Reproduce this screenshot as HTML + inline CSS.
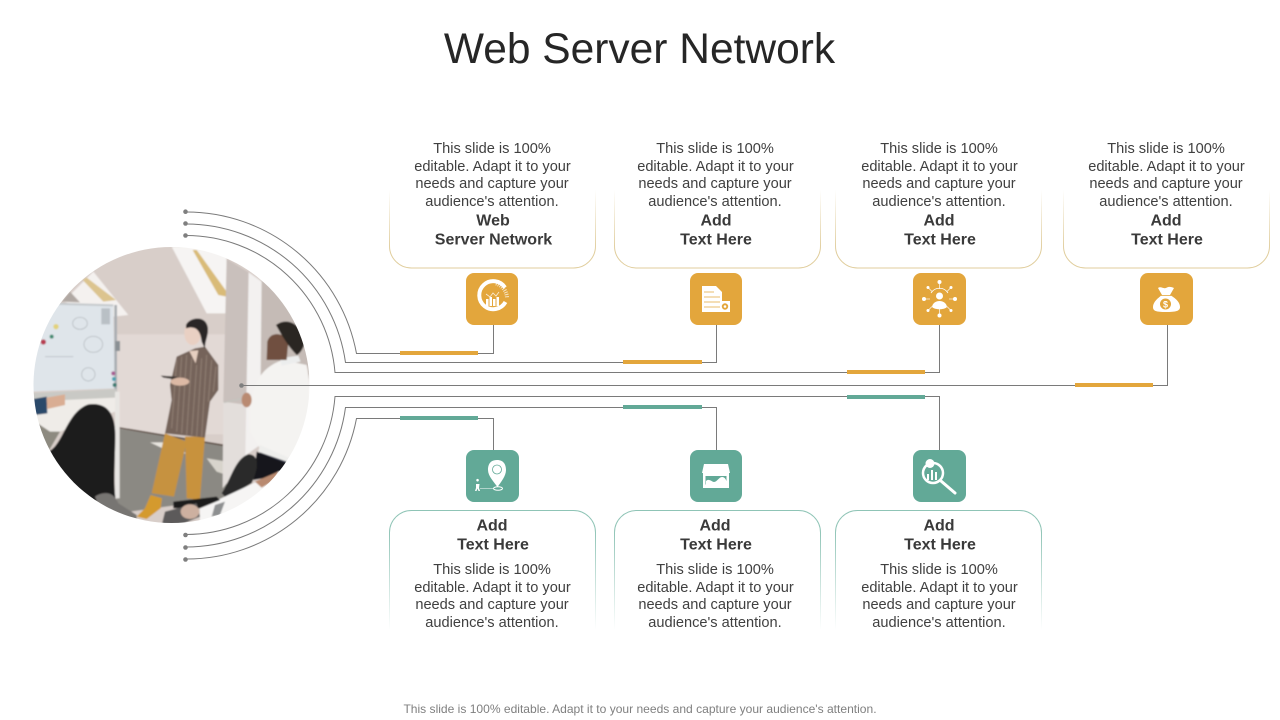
<!DOCTYPE html>
<html><head><meta charset="utf-8"><title>Web Server Network</title>
<style>html,body{margin:0;padding:0;background:#fff}svg{display:block}
text{font-family:"Liberation Sans",sans-serif}
.b{font-size:14.6px;fill:#404040;text-anchor:middle}
.h{font-size:16px;font-weight:bold;fill:#3a3a3a;text-anchor:middle}
.ln{fill:none;stroke:#7a7a7a;stroke-width:1}
.g{fill:#e3a63c}.t{fill:#62a997}
</style></head><body>
<svg width="1280" height="720" viewBox="0 0 1280 720" xmlns="http://www.w3.org/2000/svg">
<defs>
<clipPath id="c"><circle cx="171.5" cy="385" r="138"/></clipPath>
<filter id="bl" x="-5%" y="-5%" width="110%" height="110%"><feGaussianBlur stdDeviation="2.6"/></filter>
<linearGradient id="fg" gradientUnits="userSpaceOnUse" x1="0" y1="190" x2="0" y2="250"><stop offset="0" stop-color="#e0cd9c" stop-opacity="0"/><stop offset="1" stop-color="#e0cd9c"/></linearGradient>
<linearGradient id="ft" gradientUnits="userSpaceOnUse" x1="0" y1="530" x2="0" y2="630"><stop offset="0" stop-color="#8fc4b6"/><stop offset="1" stop-color="#8fc4b6" stop-opacity="0"/></linearGradient>
</defs>
<rect width="1280" height="720" fill="#fff"/>

<text x="639.5" y="63" font-size="42.5" fill="#262626" text-anchor="middle">Web Server Network</text>

<!-- photo -->
<g clip-path="url(#c)"><g transform="translate(30 245) scale(.3333)" filter="url(#bl)">
<rect x="0" y="0" width="860" height="840" fill="#d8cec9"/>
<rect x="260" y="268" width="330" height="300" fill="#e2d9d5"/>
<polygon points="260,550 590,600 590,760 300,800 260,800" fill="#8b8983"/>
<polygon points="360,592 400,592 470,625 430,625" fill="#e8e5df"/>
<polygon points="530,640 590,650 590,690 560,680" fill="#d8d4cc"/>
<polygon points="265,550 590,605 590,600 265,546" fill="#5a4a40"/>
<polygon points="425,5 560,5 590,40 590,205 530,205" fill="#f6f4f3"/>
<polygon points="488,15 500,15 590,140 590,155 565,150" fill="#d9bb78"/>
<polygon points="100,170 190,80 295,210 250,215" fill="#f4f1ef"/>
<polygon points="158,105 170,98 258,165 220,170" fill="#dcc48f"/>
<polygon points="95,170 120,140 150,172" fill="#b0a8a3"/>
<polygon points="0,440 40,172 250,180 255,430" fill="#dfe5ea"/>
<polygon points="40,172 250,178 250,184 40,178" fill="#c5c9cc"/>
<rect x="253" y="180" width="8" height="260" fill="#a9aeb2"/>
<rect x="256" y="288" width="14" height="30" fill="#8a9094"/>
<rect x="214" y="190" width="26" height="48" fill="#b9c0c5"/>
<g fill="none" stroke="#6f7478" stroke-width="2" opacity=".45"><ellipse cx="150" cy="235" rx="22" ry="18"/><ellipse cx="190" cy="298" rx="28" ry="24"/><ellipse cx="175" cy="388" rx="20" ry="20"/><path d="M45 335 H130"/></g>
<circle cx="78" cy="245" r="8" fill="#e2d27a"/><circle cx="65" cy="275" r="6" fill="#3f8a70"/><circle cx="40" cy="291" r="8" fill="#b83a50"/><circle cx="250" cy="385" r="6" fill="#a85a90"/><circle cx="252" cy="402" r="6" fill="#4aa0b0"/><circle cx="254" cy="420" r="6" fill="#3a7a70"/>
<polygon points="0,445 260,432 260,458 0,470" fill="#c9c9c5"/>
<polygon points="0,470 255,458 255,500 90,560 60,560 0,520" fill="#efece8"/>
<polygon points="0,520 60,560 90,560 55,620 0,640" fill="#8d8a80"/>
<rect x="255" y="440" width="14" height="320" fill="#e8e6e3"/>
<polygon points="10,462 50,455 52,505 14,510" fill="#2c4a6b"/>
<polygon points="50,458 105,448 105,480 52,492" fill="#d9ad93"/>
<!-- pillar -->
<polygon points="590,42 656,82 652,480 580,470" fill="#c9c0bc"/>
<polygon points="580,470 652,480 650,640 578,730" fill="#e3dedb"/>
<polygon points="695,80 860,80 860,400 690,400" fill="#c5bbb6"/>
<polygon points="656,82 695,110 690,600 646,632" fill="#f3f1f0"/>
<rect x="838" y="390" width="30" height="300" fill="#fff"/>
<!-- woman -->
<polygon points="405,565 470,590 432,755 365,745" fill="#c6923f"/>
<polygon points="465,575 525,575 510,765 470,760" fill="#c8923c"/>
<polygon points="362,750 396,760 392,790 350,822 320,815 345,790" fill="#d49a2e"/>
<path d="M440 335 L495 310 L525 305 L565 360 L565 435 L540 470 L525 578 L405 565 L425 465 L420 420 Z" fill="#75635a"/>
<g stroke="#c8b6a5" stroke-width="2.5" opacity=".4"><path d="M440 345 L425 550M455 335 L440 560M470 330 L455 565M485 340 L470 570M500 360 L485 570M515 340 L500 575M530 330 L515 575M545 345 L535 470M558 365 L550 440"/></g>
<polygon points="478,318 505,316 497,355" fill="#e6cfc0"/>
<ellipse cx="488" cy="265" rx="25" ry="35" fill="#e9d0c3"/>
<path d="M468 240 C480 215 530 210 534 250 C535 275 525 285 525 312 L515 290 C512 260 500 240 468 250Z" fill="#2a2526"/>
<polygon points="392,392 440,395 445,405 400,398" fill="#3a3432"/>
<ellipse cx="450" cy="410" rx="28" ry="12" fill="#dcb9a5"/>
<!-- man -->
<path d="M660 560 C650 430 690 365 760 345 L830 360 C845 430 840 560 835 640 L780 680 L690 610 Z" fill="#f4f3f1"/>
<path d="M750 340 L805 332 L812 350 L755 362Z" fill="#eceded"/>
<path d="M712 290 C720 260 760 260 775 290 L770 345 L710 345Z" fill="#70503f"/>
<path d="M738 240 C770 215 815 235 825 290 C820 315 805 330 800 330 C785 315 770 295 755 270 Z" fill="#2c2622"/>
<polygon points="580,470 636,458 636,464 582,474" fill="#c5c2bd"/>
<ellipse cx="650" cy="465" rx="15" ry="22" fill="#b98a72"/>
<polygon points="690,600 780,640 770,655 685,620" fill="#eeeeec"/>
<polygon points="690,622 770,650 768,655 688,628" fill="#34384a"/>
<polygon points="680,620 770,655 760,690 670,705" fill="#17171b"/>
<path d="M575 745 C600 710 615 640 655 628 C690 628 685 670 665 715 L590 760Z" fill="#2a2c2b"/>
<polygon points="510,790 745,680 860,660 860,840 510,840" fill="#f6f5f4"/>
<polygon points="675,710 745,680 735,705 695,728" fill="#b98a6f"/>
<polygon points="430,770 560,755 570,765 510,790 430,790" fill="#1f1d1c"/>
<polygon points="555,780 585,770 570,810 545,815" fill="#8d8f90"/>
<!-- seated woman -->
<path d="M55 620 C100 600 110 500 175 478 C235 470 258 510 256 580 C255 650 250 720 258 770 L200 800 C120 760 80 690 55 620Z" fill="#1f1a1b"/>
<path d="M195 755 C225 735 255 745 265 775 L320 810 L320 840 L230 840Z" fill="#777572"/>
<polygon points="405,800 500,775 510,815 450,840 395,840" fill="#5c5a5a"/>
<ellipse cx="480" cy="800" rx="28" ry="22" fill="#cdb0a0"/>
</g></g>

<!-- arcs and connectors -->
<g class="ln">
<path d="M186 212 A173 173 0 0 1 356.500 353.500 H493.500 V325"/>
<path d="M186 224 A161 161 0 0 1 345.500 362.500 H716.500 V325"/>
<path d="M186 235.500 A149.500 149.500 0 0 1 335 372.500 H939.500 V325"/>
<path d="M241 385.500 H1167.500 V325"/>
<path d="M186 534.500 A149.500 149.500 0 0 0 335 396.500 H939.500 V450"/>
<path d="M186 547 A161 161 0 0 0 345.500 407.500 H716.500 V450"/>
<path d="M186 559 A173 173 0 0 0 356.500 418.500 H493.500 V450"/>
</g>
<g fill="#7f7f7f"><circle cx="185.500" cy="211.700" r="2.300"/><circle cx="185.500" cy="223.500" r="2.300"/><circle cx="185.500" cy="235.500" r="2.300"/><circle cx="241.500" cy="385.500" r="2.300"/><circle cx="185.500" cy="535" r="2.300"/><circle cx="185.500" cy="547.500" r="2.300"/><circle cx="185.500" cy="559.500" r="2.300"/></g>

<!-- accent bars -->
<rect class="g" x="400" y="351" width="78" height="4"/><rect class="g" x="623" y="360" width="79" height="4"/><rect class="g" x="847" y="370" width="78" height="4"/><rect class="g" x="1075" y="383" width="78" height="4"/>
<rect class="t" x="400" y="416" width="78" height="4"/><rect class="t" x="623" y="405" width="79" height="4"/><rect class="t" x="847" y="395" width="78" height="4"/>

<!-- cards -->
<g fill="none" stroke="url(#fg)">
<path d="M389.500 190V246A22 22 0 0 0 411.500 268H573.500A22 22 0 0 0 595.500 246V190"/>
<path d="M614.500 190V246A22 22 0 0 0 636.500 268H798.500A22 22 0 0 0 820.500 246V190"/>
<path d="M835.500 190V246A22 22 0 0 0 857.500 268H1019.500A22 22 0 0 0 1041.500 246V190"/>
<path d="M1063.500 190V246A22 22 0 0 0 1085.500 268H1247.500A22 22 0 0 0 1269.500 246V190"/>
</g>
<g fill="none" stroke="url(#ft)">
<path d="M389.500 630V532.500A22 22 0 0 1 411.500 510.500H573.500A22 22 0 0 1 595.500 532.500V630"/>
<path d="M614.500 630V532.500A22 22 0 0 1 636.500 510.500H798.500A22 22 0 0 1 820.500 532.500V630"/>
<path d="M835.500 630V532.500A22 22 0 0 1 857.500 510.500H1019.500A22 22 0 0 1 1041.500 532.500V630"/>
</g>

<!-- icon tiles -->
<rect class="g" x="466" y="273" width="52" height="52" rx="8"/><rect class="g" x="690" y="273" width="52" height="52" rx="8"/><rect class="g" x="913" y="273" width="53" height="52" rx="8"/><rect class="g" x="1140" y="273" width="53" height="52" rx="8"/>
<rect class="t" x="466" y="450" width="53" height="52" rx="8"/><rect class="t" x="690" y="450" width="52" height="52" rx="8"/><rect class="t" x="913" y="450" width="53" height="52" rx="8"/>

<!-- icon: donut chart -->
<g fill="none" stroke="#fff">
<path d="M505 287.500 A14 14 0 1 0 505.500 302" stroke-width="4"/>
<path d="M496 283.500 A15.500 15.500 0 0 1 507 298" stroke-width="4" stroke-dasharray="1 1.200" opacity=".7"/>
</g>
<g fill="#fff"><rect x="486" y="299" width="2.500" height="7"/><rect x="489.500" y="297" width="2.500" height="9"/><rect x="493" y="299" width="2.500" height="7"/><rect x="496.500" y="297" width="2.500" height="9"/></g>
<path d="M486 294 L490 297 L493 293 L496 296 L499 292" fill="none" stroke="#fff" stroke-width=".8" opacity=".8"/>

<!-- icon: document -->
<path d="M702 286 H716 L722 292 V312 H702Z" fill="#fff"/>
<g stroke="#e3a63c" stroke-width=".8"><path d="M704 292H714M704 297H720M704 302H720M704 307H720"/></g>
<g fill="#fff"><rect x="720" y="301" width="10" height="11"/></g>
<circle cx="725" cy="306.500" r="3.200" fill="#e3a63c"/><circle cx="725" cy="306.500" r="1.300" fill="#fff"/>

<!-- icon: network person -->
<g stroke="#fff" stroke-width=".8" fill="none">
<path d="M939.500 281V289M939.500 309V317M923 299H930M949 299H956M928 287.500L932 291.500M951 287.500L947 291.500M928 310.500L932 306.500M951 310.500L947 306.500" opacity=".85"/>
<path d="M931 293 A10 10 0 0 1 948 293" />
</g>
<g fill="#fff"><circle cx="939.500" cy="282" r="2"/><circle cx="939.500" cy="315.500" r="2"/><circle cx="924" cy="299" r="2"/><circle cx="955" cy="299" r="2"/><circle cx="928" cy="287.500" r="1.500"/><circle cx="951" cy="287.500" r="1.500"/><circle cx="928" cy="310.500" r="1.500"/><circle cx="951" cy="310.500" r="1.500"/></g>
<circle cx="939.500" cy="296" r="3.500" fill="#fff"/><path d="M932 307 C933 299 946 299 947 307 C944 310 935 310 932 307Z" fill="#fff"/>

<!-- icon: money bag -->
<path d="M1158 288 C1161 286 1163 289 1166 288 C1169 286 1172 287 1174 288 L1170 295 C1177 299 1180 303 1180 307 C1180 311 1176 312 1166 312 C1156 312 1153 311 1153 307 C1153 302 1158 298 1162 295Z" fill="#fff"/>
<path d="M1161 295.500H1171" stroke="#e3a63c" stroke-width=".8"/>
<circle cx="1165.500" cy="304" r="5.500" fill="#e3a63c"/>
<text x="1165.500" y="307.500" font-size="9" font-weight="bold" fill="#fff" text-anchor="middle">$</text>

<!-- icon: pin -->
<path d="M497 460 C488 460 488 468 488 470 C488 476 494 482 497.500 487 C501 482 506 476 506 470 C506 465 504 460 497 460Z" fill="#fff"/>
<circle cx="497" cy="469.500" r="4.500" fill="none" stroke="#62a997" stroke-width=".8"/>
<ellipse cx="498" cy="488.500" rx="4.500" ry="1.800" fill="none" stroke="#fff" stroke-width="1"/>
<path d="M480 488.500H493" stroke="#fff" stroke-width=".5"/>
<path d="M477.500 481.500 a1.300 1.300 0 1 1 .1 0 M476 484 H479.500 L479 488 L480 491 H478.500 L477.500 488.500 L476.500 491 H475 L476 488Z" fill="#fff"/>

<!-- icon: store -->
<path d="M704 464 H728 L730 473 H702Z" fill="#fff"/>
<rect x="703" y="473" width="26" height="15" fill="#fff"/>
<rect x="705.500" y="476" width="21" height="8.500" fill="#62a997"/>
<path d="M706 485 L706 481 C709 478 712 482 714 482 C717 482 719 477 722 477 C725 477 726 480 726.500 481 V485Z" fill="#fff"/>

<!-- icon: magnifier -->
<circle cx="933" cy="473" r="10" fill="none" stroke="#fff" stroke-width="2.500"/>
<circle cx="930" cy="463.500" r="4.500" fill="#fff"/>
<g fill="#fff"><rect x="927" y="474" width="2" height="6"/><rect x="931" y="470" width="2" height="10"/><rect x="935" y="472" width="2" height="8"/></g>
<path d="M941 481 L955 493" stroke="#fff" stroke-width="3" stroke-linecap="round"/>

<!-- top card text -->
<text class="b" x="492" y="153">This slide is 100%</text><text class="b" x="492.500" y="171">editable. Adapt it to your</text><text class="b" x="492" y="188">needs and capture your</text><text class="b" x="492" y="206">audience's attention.</text>
<text class="h" x="493" y="225.500">Web</text><text class="h" x="493.500" y="244.500">Server Network</text>
<text class="b" x="715" y="153">This slide is 100%</text><text class="b" x="715.500" y="171">editable. Adapt it to your</text><text class="b" x="715" y="188">needs and capture your</text><text class="b" x="715" y="206">audience's attention.</text>
<text class="h" x="716" y="225.500">Add</text><text class="h" x="716" y="244.500">Text Here</text>
<text class="b" x="939" y="153">This slide is 100%</text><text class="b" x="939.500" y="171">editable. Adapt it to your</text><text class="b" x="939" y="188">needs and capture your</text><text class="b" x="939" y="206">audience's attention.</text>
<text class="h" x="939" y="225.500">Add</text><text class="h" x="940" y="244.500">Text Here</text>
<text class="b" x="1166" y="153">This slide is 100%</text><text class="b" x="1166.500" y="171">editable. Adapt it to your</text><text class="b" x="1166" y="188">needs and capture your</text><text class="b" x="1166" y="206">audience's attention.</text>
<text class="h" x="1166" y="225.500">Add</text><text class="h" x="1167" y="244.500">Text Here</text>

<!-- bottom card text -->
<text class="h" x="492" y="530.500">Add</text><text class="h" x="493" y="549.500">Text Here</text>
<text class="b" x="492" y="574">This slide is 100%</text><text class="b" x="492.500" y="592">editable. Adapt it to your</text><text class="b" x="492" y="609">needs and capture your</text><text class="b" x="492" y="627">audience's attention.</text>
<text class="h" x="715" y="530.500">Add</text><text class="h" x="716" y="549.500">Text Here</text>
<text class="b" x="715" y="574">This slide is 100%</text><text class="b" x="715.500" y="592">editable. Adapt it to your</text><text class="b" x="715" y="609">needs and capture your</text><text class="b" x="715" y="627">audience's attention.</text>
<text class="h" x="939" y="530.500">Add</text><text class="h" x="940" y="549.500">Text Here</text>
<text class="b" x="939" y="574">This slide is 100%</text><text class="b" x="939.500" y="592">editable. Adapt it to your</text><text class="b" x="939" y="609">needs and capture your</text><text class="b" x="939" y="627">audience's attention.</text>

<text x="640" y="713" font-size="12.05" fill="#7f7f7f" text-anchor="middle">This slide is 100% editable. Adapt it to your needs and capture your audience's attention.</text>
</svg>
</body></html>
